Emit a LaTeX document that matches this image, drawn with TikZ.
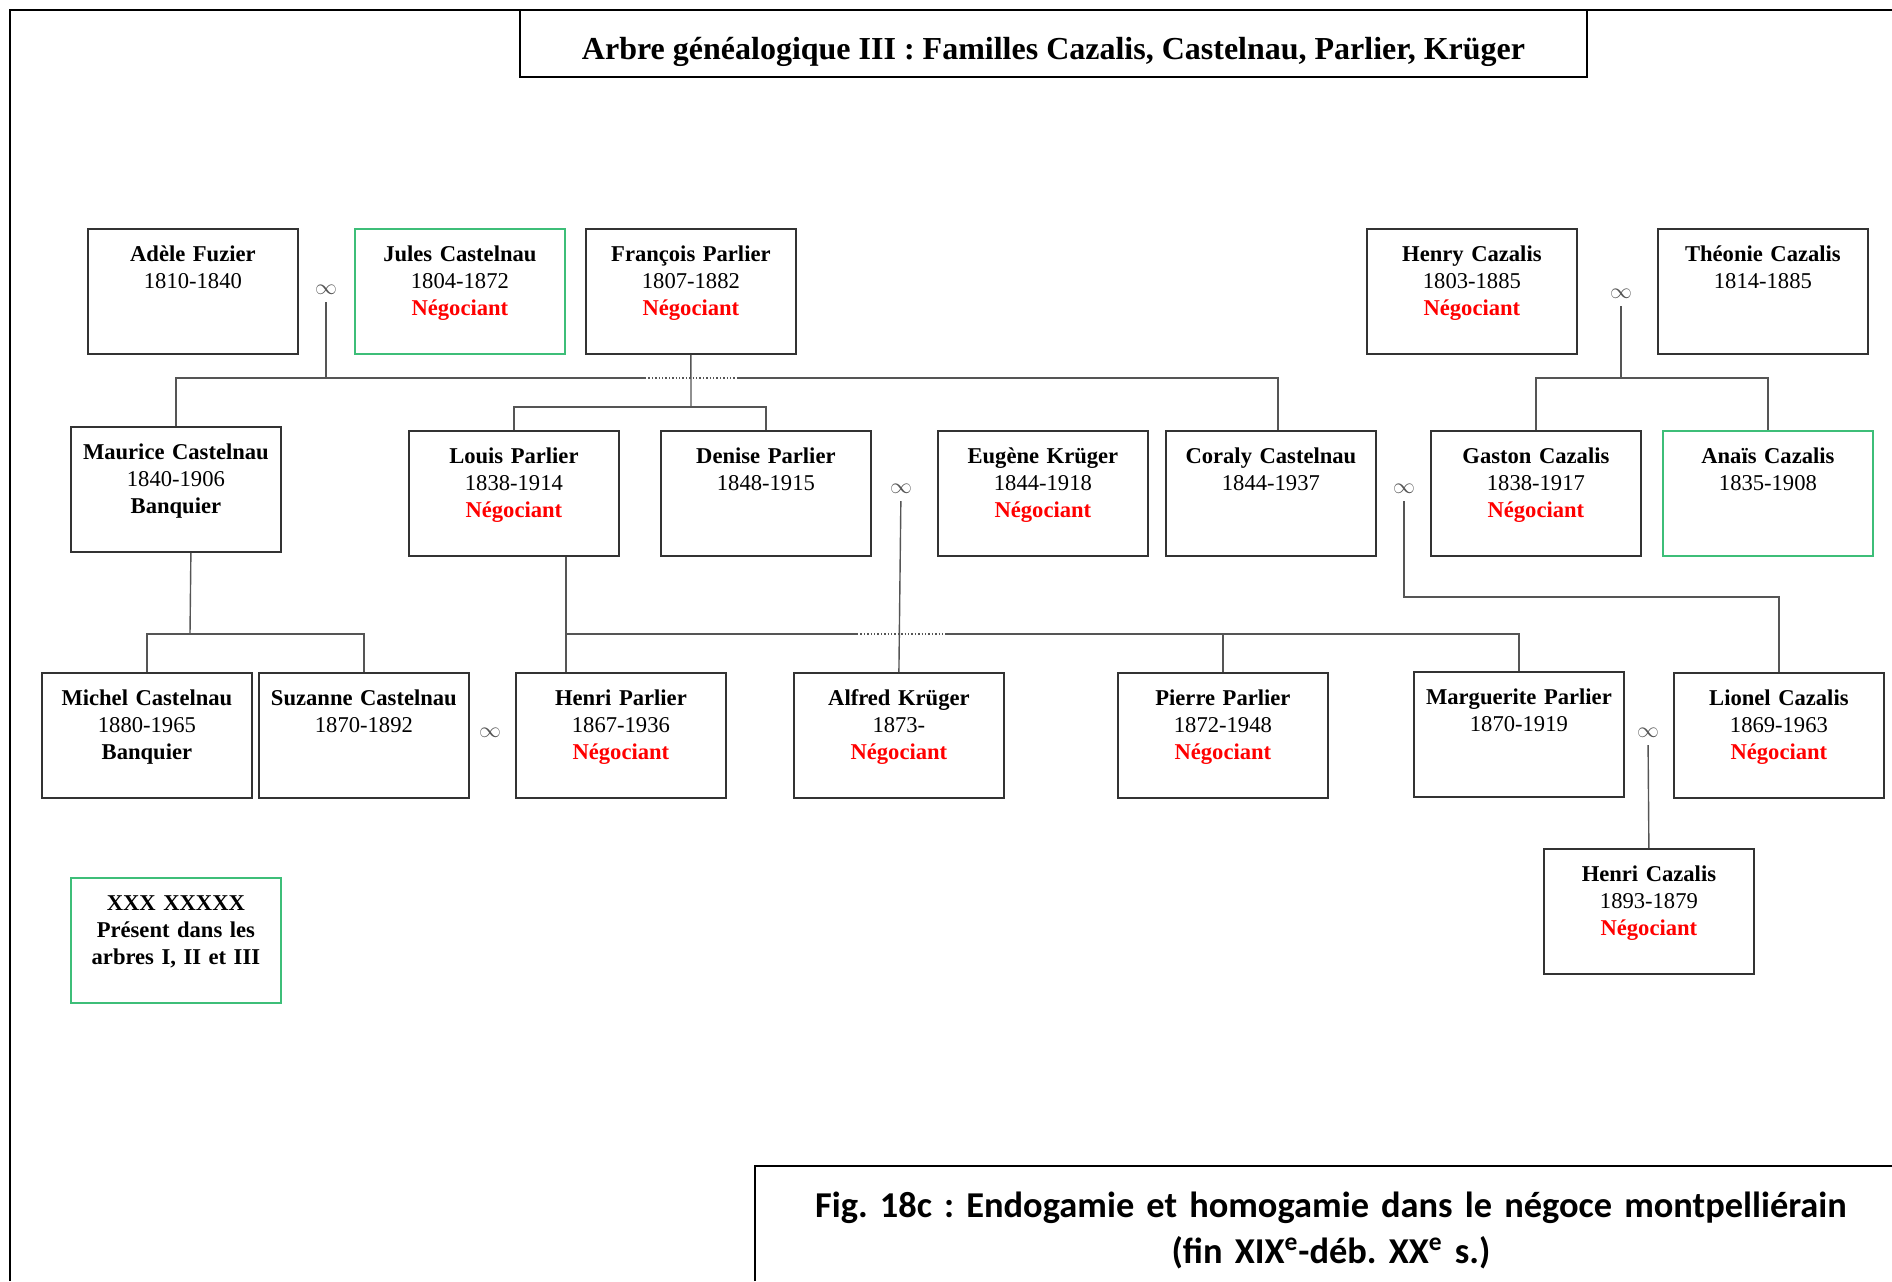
\documentclass[tikz,border=0pt]{standalone}
\usepackage{fontspec}
\setmainfont{Liberation Serif}
\newfontfamily\capfont{Carlito}
\definecolor{cframe}{HTML}{333333}
\definecolor{cline}{HTML}{555555}
\definecolor{cgreen}{HTML}{3DBE78}
\definecolor{cred}{HTML}{FF0000}
\newcommand{\nego}{\textcolor{cred}{\bfseries Négociant}}
\frenchspacing
\tikzset{
  person/.style={draw=#1, line width=0.9pt, rectangle, anchor=north west,
    minimum width=105pt, minimum height=62.5pt, inner sep=0pt, text width=100pt,
    align=center, text height=16.25pt, text depth=46.25pt,
    font=\fontsize{11.3}{13.5}\selectfont},
  person/.default=cframe,
  link/.style={draw=cline, line width=0.7pt},
  hop/.style={draw=cline, line width=0.7pt, densely dotted},
  wed/.style={text=cline, inner sep=3.5pt, font=\fontsize{10.5}{10.5}\selectfont},
  titlebox/.style={draw=black, line width=1.2pt, minimum width=533.5pt, minimum height=33.5pt,
    inner sep=0pt, text height=15.5pt, text depth=0pt, font=\bfseries\fontsize{16}{19}\selectfont},
  caption/.style={anchor=north, inner sep=0pt, text width=620pt, align=center,
    text height=15pt, font=\capfont\bfseries\fontsize{18.2}{23}\selectfont},
}

\begin{document}
\begin{tikzpicture}[x=0.5pt, y=-0.5pt]
  \useasboundingbox (0,0) rectangle (1892,1281);
  % page frame and title
  \draw[line width=1.2pt] (10,1281) -- (10,10) -- (1892,10);
  \node[titlebox] (title) at (1053.5,43.5) {Arbre généalogique III : Familles Cazalis, Castelnau, Parlier, Krüger};

  % first generation
  \node[person] (adele) at (87,228) {\textbf{Adèle Fuzier}\\1810-1840};
  \node[person=cgreen] (jules) at (354,228) {\textbf{Jules Castelnau}\\1804-1872\\\nego};
  \node[person] (francois) at (585,228) {\textbf{François Parlier}\\1807-1882\\\nego};
  \node[person] (henry) at (1366,228) {\textbf{Henry Cazalis}\\1803-1885\\\nego};
  \node[person] (theonie) at (1657,228) {\textbf{Théonie Cazalis}\\1814-1885};

  % second generation
  \node[person] (maurice) at (70,426) {\textbf{Maurice Castelnau}\\1840-1906\\\textbf{Banquier}};
  \node[person] (louis) at (408,430) {\textbf{Louis Parlier}\\1838-1914\\\nego};
  \node[person] (denise) at (660,430) {\textbf{Denise Parlier}\\1848-1915};
  \node[person] (eugene) at (937,430) {\textbf{Eugène Krüger}\\1844-1918\\\nego};
  \node[person] (coraly) at (1165,430) {\textbf{Coraly Castelnau}\\1844-1937};
  \node[person] (gaston) at (1430,430) {\textbf{Gaston Cazalis}\\1838-1917\\\nego};
  \node[person=cgreen] (anais) at (1662,430) {\textbf{Anaïs Cazalis}\\1835-1908};

  % third generation
  \node[person] (michel) at (41,672) {\textbf{Michel Castelnau}\\1880-1965\\\textbf{Banquier}};
  \node[person] (suzanne) at (258,672) {\textbf{Suzanne Castelnau}\\1870-1892};
  \node[person] (henrip) at (515,672) {\textbf{Henri Parlier}\\1867-1936\\\nego};
  \node[person] (alfred) at (793,672) {\textbf{Alfred Krüger}\\1873-\\\nego};
  \node[person] (pierre) at (1117,672) {\textbf{Pierre Parlier}\\1872-1948\\\nego};
  \node[person] (marguerite) at (1413,671) {\textbf{Marguerite Parlier}\\1870-1919};
  \node[person] (lionel) at (1673,672) {\textbf{Lionel Cazalis}\\1869-1963\\\nego};
  \node[person] (henric) at (1543,848) {\textbf{Henri Cazalis}\\1893-1879\\\nego};

  % legend
  \node[person=cgreen] (legend) at (70,877) {\textbf{XXX XXXXX}\\\textbf{Présent dans les}\\\textbf{arbres I, II et III}};

  % marriages
  \node[wed] (m1) at (326,290) {$\infty$};
  \node[wed] (m2) at (1621,294) {$\infty$};
  \node[wed] (m3) at (901,489) {$\infty$};
  \node[wed] (m4) at (1404,489) {$\infty$};
  \node[wed] (m5) at (490,733) {$\infty$};
  \node[wed] (m6) at (1648,733) {$\infty$};

  % Castelnau line
  \coordinate (cb) at (326,378);
  \coordinate (h1a) at (645,378);
  \coordinate (h1b) at (738,378);
  \draw[link] (m1) -- (cb);
  \draw[link] (maurice.north) |- (cb) -- (h1a);
  \draw[hop] (h1a) -- (h1b);
  \draw[link] (h1b) -| ([xshift=3.5pt]coraly.north);

  % Parlier line
  \coordinate (pb) at (691,407);
  \draw[link] (francois.south) -- (pb);
  \draw[link] (louis.north) |- (pb) -| (denise.north);

  % Cazalis line
  \coordinate (cz) at (1621,378);
  \draw[link] (m2) -- (cz);
  \draw[link] (gaston.north) |- (cz) -| (anais.north);

  % children of Maurice
  \coordinate (mb) at (190,634);
  \draw[link] ([xshift=7.5pt]maurice.south) -- (mb);
  \draw[link] (michel.north) |- (mb) -| (suzanne.north);

  % children of Louis
  \coordinate (lb) at (565,634);
  \coordinate (h2a) at (857,634);
  \coordinate (h2b) at (947,634);
  \draw[link] ([xshift=26pt]louis.south) -- ([xshift=-27.5pt]henrip.north);
  \draw[link] (lb) -- (h2a);
  \draw[hop] (h2a) -- (h2b);
  \draw[link] (h2b) -| (marguerite.north);
  \draw[link] (pierre.north) -- (pierre.north |- lb);

  % Denise and Eugène
  \draw[link] (m3) -- (alfred.north);

  % Coraly and Gaston
  \coordinate (lc) at (1404,597);
  \draw[link] (m4) -- (lc) -| (lionel.north);

  % Marguerite and Lionel
  \draw[link] (m6) -- (henric.north);

  % caption
  \draw[line width=1.2pt] (755,1281) -- (755,1166) -- (1892,1166);
  \node[caption] (cap) at (1331,1187) {Fig. 18c : Endogamie et homogamie dans le négoce montpelliérain\\(fin XIX\textsuperscript{e}-déb. XX\textsuperscript{e} s.)};
\end{tikzpicture}
\end{document}
